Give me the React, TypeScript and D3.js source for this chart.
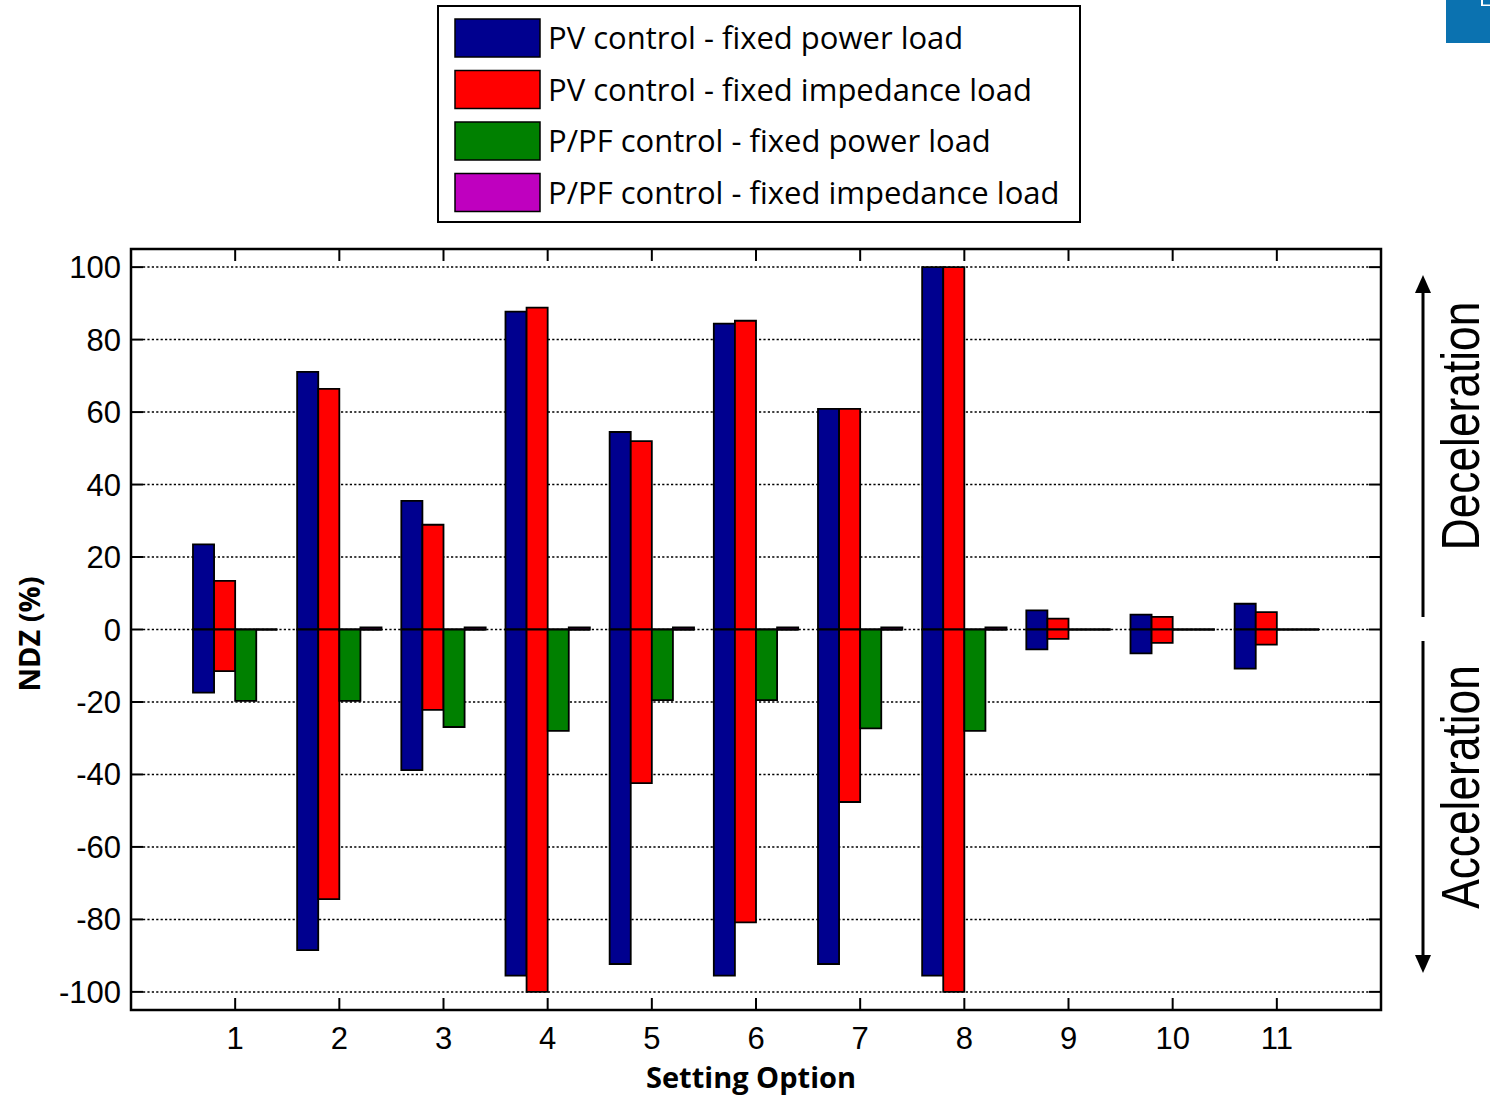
import React from 'react';
import * as d3 from 'd3';

const settings = [1, 2, 3, 4, 5, 6, 7, 8, 9, 10, 11];
const seriesNames = [
  'PV control - fixed power load',
  'PV control - fixed impedance load',
  'P/PF control - fixed power load',
  'P/PF control - fixed impedance load',
];
const seriesColors = ['#00008f', '#ff0000', '#008000', '#bf00bf'];

// Deceleration (positive) and acceleration (negative) NDZ, %
const pvPowerPos = [23.5, 71.1, 35.5, 87.7, 54.5, 84.4, 60.9, 100, 5.3, 4.1, 7.1];
const pvPowerNeg = [-17.4, -88.5, -38.8, -95.5, -92.3, -95.5, -92.3, -95.5, -5.5, -6.6, -10.8];
const pvImpPos = [13.4, 66.4, 28.9, 88.8, 52.0, 85.2, 60.9, 100, 3.0, 3.5, 4.8];
const pvImpNeg = [-11.5, -74.4, -22.2, -100, -42.4, -80.8, -47.6, -100, -2.6, -3.7, -4.2];
const ppfPowerPos = [0, 0, 0, 0, 0, 0, 0, 0, 0, 0, 0];
const ppfPowerNeg = [-19.7, -19.7, -26.9, -28, -19.5, -19.5, -27.3, -28, 0, 0, 0];
const ppfImpPos = [0, 0.6, 0.6, 0.6, 0.6, 0.6, 0.6, 0.6, 0, 0, 0];
const ppfImpNeg = [0, 0, 0, 0, 0, 0, 0, 0, 0, 0, 0];

const posSeries = [pvPowerPos, pvImpPos, ppfPowerPos, ppfImpPos];
const negSeries = [pvPowerNeg, pvImpNeg, ppfPowerNeg, ppfImpNeg];

const yTicks = [-100, -80, -60, -40, -20, 0, 20, 40, 60, 80, 100];
const xLabel = 'Setting Option';
const yLabel = 'NDZ (%)';

export default function App() {
  const W = 1490;
  const H = 1098;
  const left = 131, right = 1381, top = 249, bottom = 1010;
  const x = d3.scaleLinear().domain([0, 12]).range([left, right]);
  const y = d3.scaleLinear().domain([-105, 105]).range([bottom, top]);
  const band = d3.scaleBand<number>().domain([0, 1, 2, 3]).range([-0.405, 0.405]).paddingInner(0);
  const tickLen = 12;

  const barPath = (s: number, i: number, v: number) => {
    const x0 = x(s + (band(i) as number));
    const x1 = x(s + (band(i) as number) + band.bandwidth());
    const y0 = y(0);
    const y1 = y(v);
    return `M${x0},${y0}H${x1}V${y1}H${x0}Z`;
  };

  const tickFont = '"Liberation Sans", Arial, sans-serif';
  const labelFont = '"Open Sans", "Noto Sans", sans-serif';

  return (
    <svg width={W} height={H} viewBox={`0 0 ${W} ${H}`}
      style={{ position: 'absolute', left: 0, top: 0, background: '#fff' }}>
      <rect x={0} y={0} width={W} height={H} fill="#fff" />

      {/* corner badge (clipped fragment) */}
      <rect x={1446} y={0} width={44} height={43} fill="#0b72b0" />
      <path d="M1481,0V6H1490V4.5H1483V0Z" fill="#fff" />

      {/* legend */}
      <rect x={438} y={6} width={642} height={216} fill="#fff" stroke="#000" strokeWidth={2} />
      {seriesNames.map((n, i) => {
        const cy = 38 + i * 51.5;
        return (
          <g key={n}>
            <rect x={455} y={cy - 19} width={85} height={38} fill={seriesColors[i]} stroke="#000" strokeWidth={1.5} />
            <text x={548} y={cy + 11} fontFamily={labelFont} fontSize={31} fill="#000">{n}</text>
          </g>
        );
      })}

      {/* grid */}
      {yTicks.map(t => (
        <line key={'g' + t} x1={left + tickLen} x2={right - tickLen} y1={y(t)} y2={y(t)}
          stroke="#000" strokeWidth={1.5} strokeDasharray="2.2,2.2" />
      ))}

      {/* bars */}
      {settings.map((s, k) => (
        <g key={'b' + s}>
          {posSeries.map((arr, i) => (
            <path key={'p' + i} d={barPath(s, i, arr[k])} fill={seriesColors[i]} stroke="#000" strokeWidth={1.8} />
          ))}
          {negSeries.map((arr, i) => (
            <path key={'n' + i} d={barPath(s, i, arr[k])} fill={seriesColors[i]} stroke="#000" strokeWidth={1.8} />
          ))}
        </g>
      ))}

      {/* axes box */}
      <rect x={left} y={top} width={right - left} height={bottom - top} fill="none" stroke="#000" strokeWidth={2.5} />

      {/* y ticks */}
      {yTicks.map(t => (
        <g key={'yt' + t}>
          <line x1={left} x2={left + tickLen} y1={y(t)} y2={y(t)} stroke="#000" strokeWidth={2} />
          <line x1={right} x2={right - tickLen} y1={y(t)} y2={y(t)} stroke="#000" strokeWidth={2} />
          <text x={121} y={y(t) + 11} textAnchor="end" fontFamily={tickFont} fontSize={31} fill="#000">{t}</text>
        </g>
      ))}

      {/* x ticks */}
      {settings.map(s => (
        <g key={'xt' + s}>
          <line x1={x(s)} x2={x(s)} y1={bottom} y2={bottom - tickLen} stroke="#000" strokeWidth={2} />
          <line x1={x(s)} x2={x(s)} y1={top} y2={top + tickLen} stroke="#000" strokeWidth={2} />
          <text x={x(s)} y={1049} textAnchor="middle" fontFamily={tickFont} fontSize={31} fill="#000">{s}</text>
        </g>
      ))}

      {/* axis labels */}
      <text x={751} y={1088} textAnchor="middle" fontFamily={labelFont} fontWeight="bold" fontSize={29} fill="#000">{xLabel}</text>
      <text transform={`translate(40,634) rotate(-90)`} textAnchor="middle" fontFamily={labelFont} fontWeight="bold" fontSize={29} fill="#000">{yLabel}</text>

      {/* direction arrows */}
      <line x1={1423} x2={1423} y1={617} y2={288} stroke="#000" strokeWidth={3} />
      <path d="M1423,275L1415,293L1431,293Z" fill="#000" />
      <line x1={1423} x2={1423} y1={641} y2={958} stroke="#000" strokeWidth={3} />
      <path d="M1423,973L1415,955L1431,955Z" fill="#000" />
      <text transform="translate(1479,426) rotate(-90) scale(0.82,1)" textAnchor="middle" fontFamily={tickFont} fontSize={54} fill="#000">Deceleration</text>
      <text transform="translate(1479,787) rotate(-90) scale(0.82,1)" textAnchor="middle" fontFamily={tickFont} fontSize={54} fill="#000">Acceleration</text>
    </svg>
  );
}
